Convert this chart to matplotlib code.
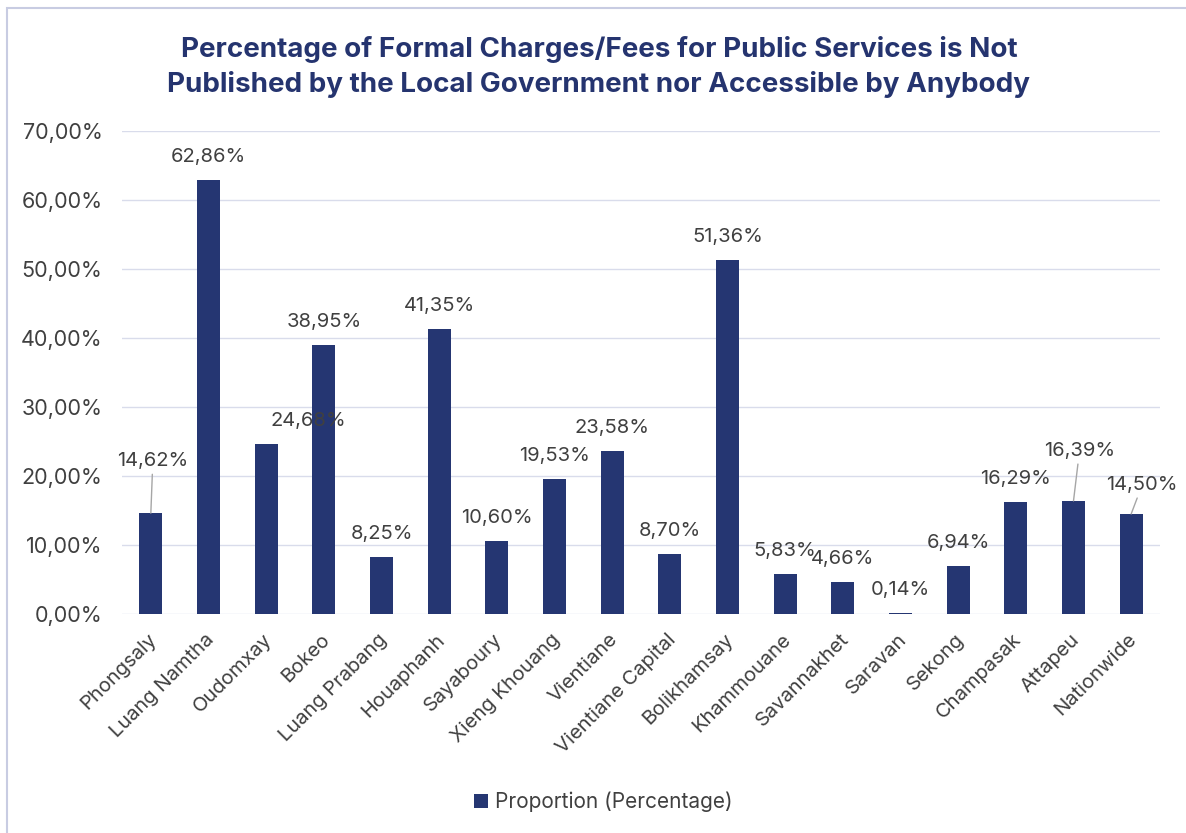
import matplotlib.pyplot as plt
import matplotlib.transforms as mtransforms
from matplotlib.patches import Rectangle
from matplotlib.ticker import FuncFormatter

provinces = ["Phongsaly", "Luang Namtha", "Oudomxay", "Bokeo", "Luang Prabang",
             "Houaphanh", "Sayaboury", "Xieng Khouang", "Vientiane",
             "Vientiane Capital", "Bolikhamsay", "Khammouane", "Savannakhet",
             "Saravan", "Sekong", "Champasak", "Attapeu", "Nationwide"]
proportion = [14.62, 62.86, 24.68, 38.95, 8.25, 41.35, 10.60, 19.53, 23.58,
              8.70, 51.36, 5.83, 4.66, 0.14, 6.94, 16.29, 16.39, 14.50]

# label centre offsets in pixels (dx, dy) from the bar top, Excel-style placement
label_offsets = [(2, 52), (0, 23), (42, 23), (0, 23), (0, 23), (0, 23),
                 (0, 23), (0, 23), (0, 23), (0, 23), (0, 23), (0, 23),
                 (0, 23), (0, 23), (0, 23), (0, 23), (6, 50), (11, 29)]
leader = [True, False, False, False, False, False, False, False, False,
          False, False, False, False, False, False, False, True, True]

bar_color = "#253672"
title_color = "#25346F"
text_color = "#404040"
grid_color = "#D9DCEB"

plt.rcParams['font.family'] = ['Inter', 'DejaVu Sans']

fig = plt.figure(figsize=(11.86, 8.33), dpi=100)
fig.patches.append(Rectangle((7 / 1186, -0.05), 1.2, 1 - 8 / 833 + 0.05,
                             transform=fig.transFigure, fill=False,
                             edgecolor="#C8CCE2", linewidth=1.5))
ax = fig.add_axes([122 / 1186, 1 - 614 / 833, (1160 - 122) / 1186, (614 - 131) / 833])

x = range(len(provinces))
bars = ax.bar(x, proportion, width=0.4, color=bar_color, label="Proportion (Percentage)",
              zorder=3)

ax.set_ylim(0, 70)
ax.set_xlim(-0.5, len(provinces) - 0.5)
ax.set_yticks(range(0, 71, 10))
ax.yaxis.set_major_formatter(FuncFormatter(lambda v, p: f"{v:.2f}%".replace(".", ",")))
ax.yaxis.grid(True, color=grid_color, linewidth=1, zorder=0)
ax.tick_params(axis="y", length=0, labelsize=15.5, labelcolor=text_color, pad=14)
ax.tick_params(axis="x", length=0, labelsize=14.5, labelcolor=text_color, pad=16.5)
ax.set_xticks(list(x))
ax.set_xticklabels(provinces, rotation=45, ha="right", va="center",
                   rotation_mode="anchor")
shift = mtransforms.ScaledTranslation(3 / 100, 0, fig.dpi_scale_trans)
for lbl in ax.get_xticklabels():
    lbl.set_transform(lbl.get_transform() + shift)
for s in ax.spines.values():
    s.set_visible(False)

for i, (v, off, ld) in enumerate(zip(proportion, label_offsets, leader)):
    props = dict(arrowstyle="-", color="#A6A6A6", lw=1, shrinkA=1, shrinkB=0) if ld else None
    ax.annotate(f"{v:.2f}%".replace(".", ","), xy=(i, v), xytext=off,
                textcoords="offset pixels", ha="center", va="center",
                fontsize=14.5, color=text_color, arrowprops=props, zorder=4)

fig.text(0.505, 1 - 67 / 833, "Percentage of Formal Charges/Fees for Public Services is Not\n"
         "Published by the Local Government nor Accessible by Anybody",
         ha="center", va="center", fontsize=20, fontweight="bold", color=title_color,
         linespacing=1.38)

fig.legend(handles=[bars], labels=["Proportion (Percentage)"], loc="center",
           bbox_to_anchor=(603 / 1186, 1 - 802 / 833), frameon=False, fontsize=15,
           handlelength=0.7, handleheight=0.7, handletextpad=0.3, labelcolor=text_color)

fig.savefig("out.png", dpi=100)
